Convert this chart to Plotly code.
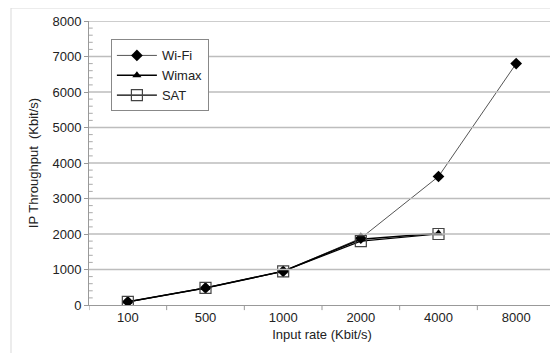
import plotly.graph_objects as go

categories = ["100", "500", "1000", "2000", "4000", "8000"]
wifi = [90, 480, 950, 1880, 3620, 6800]
wimax = [90, 480, 950, 1850, 2020, None]
sat = [90, 480, 950, 1800, 2000, None]
y_ticks = [0, 1000, 2000, 3000, 4000, 5000, 6000, 7000, 8000]
y_minor_ticks = list(range(0, 8001, 200))

font = "Liberation Sans"

fig = go.Figure()

# horizontal gridlines drawn as line traces on a hidden linear overlay x axis
gx, gy = [], []
for v in y_ticks[1:]:
    gx += [0, 1, None]
    gy += [v, v, None]
fig.add_trace(go.Scatter(x=gx, y=gy, xaxis="x2", yaxis="y", mode="lines", showlegend=False,
                         hoverinfo="skip", line=dict(color="#bdbdbd", width=1.5)))

# minor tick marks inside the y axis
mx, my = [], []
for v in y_minor_ticks:
    if v % 1000:
        mx += [0, 0.008, None]
        my += [v, v, None]
fig.add_trace(go.Scatter(x=mx, y=my, xaxis="x2", yaxis="y", mode="lines", showlegend=False,
                         hoverinfo="skip", line=dict(color="#aaaaaa", width=1)))

fig.add_trace(go.Scatter(x=categories, y=wifi, name="Wi-Fi", mode="lines+markers",
                         line=dict(color="#555555", width=1),
                         marker=dict(symbol="diamond", size=9, color="black")))
fig.add_trace(go.Scatter(x=categories[:5], y=wimax[:5], name="Wimax", mode="lines+markers",
                         line=dict(color="black", width=1.5),
                         marker=dict(symbol="triangle-up", size=8, color="black")))
fig.add_trace(go.Scatter(x=categories[:5], y=sat[:5], name="SAT", mode="lines+markers",
                         line=dict(color="black", width=1.2),
                         marker=dict(symbol="square-open", size=11, color="#444444", line=dict(width=1.2))))

W, H = 550, 345  # page body has an 8px margin in the 558x353 window

fig.update_layout(
    width=W, height=H,
    margin=dict(l=81, r=3, t=13, b=48),
    paper_bgcolor="white", plot_bgcolor="white",
    font=dict(family=font, size=13, color="#222222"),
    showlegend=True,
    legend=dict(x=0.047, y=0.935, xanchor="left", yanchor="top",
                bordercolor="#888888", borderwidth=1, bgcolor="white",
                font=dict(size=13), itemwidth=40, tracegroupgap=2),
    xaxis=dict(type="category", categoryorder="array", categoryarray=categories,
               showgrid=False, showline=True, linecolor="#999999", linewidth=1,
               ticks="", range=[-0.5, 5.5], automargin=False, zeroline=False,
               title=dict(text="Input rate (Kbit/s)", font=dict(size=13), standoff=6)),
    xaxis2=dict(type="linear", overlaying="x", anchor="y", range=[0, 1], visible=False,
                showgrid=False, zeroline=False, automargin=False),
    yaxis=dict(range=[0, 8000], tickmode="array", tickvals=y_ticks, showgrid=False,
               showline=True, linecolor="#999999",
               linewidth=1, ticks="outside", ticklen=4, tickcolor="#999999",
               automargin=False, zeroline=False,
               title=dict(text="IP Throughput  (Kbit/s)", font=dict(size=13), standoff=10)),
)

# category boundary ticks on x axis
for i in range(7):
    fig.add_shape(type="line", xref="x", yref="paper", x0=i - 0.5, x1=i - 0.5, y0=0, y1=-0.018,
                  line=dict(color="#999999", width=1))

# outer chart border
fig.add_shape(type="rect", xref="paper", yref="paper",
              x0=(3 - 81) / 466, x1=(560 - 89) / 466, y0=(297 - 360) / 284, y1=(297 - 0) / 284,
              line=dict(color="#d9d9d9", width=1), fillcolor="rgba(0,0,0,0)", layer="above")

fig.write_html("out.html")
